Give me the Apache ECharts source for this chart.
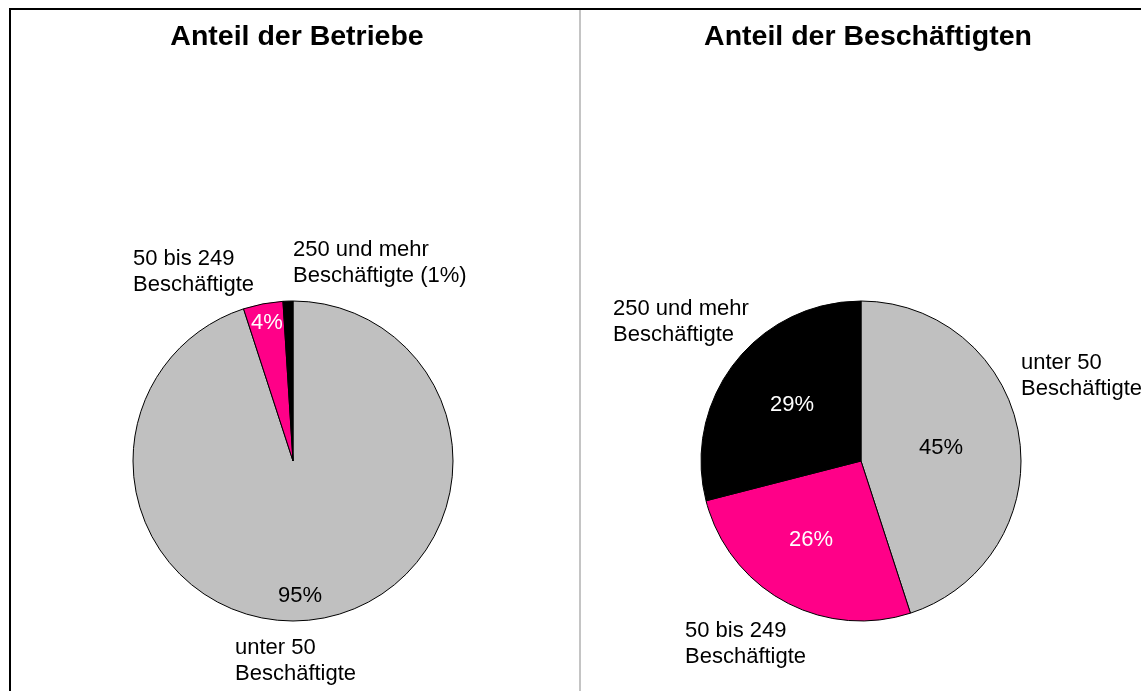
<!DOCTYPE html>
<html>
<head>
<meta charset="utf-8">
<script src="https://cdn.jsdelivr.net/npm/echarts@6/dist/echarts.min.js"></script>
<style>
  html, body { margin: 0; padding: 0; background: #fff; }
  #main { width: 1141px; height: 691px; }
</style>
</head>
<body>
<div id="main"></div>
<script>
var categories = ['unter 50\nBeschäftigte', '50 bis 249\nBeschäftigte', '250 und mehr\nBeschäftigte'];
var namesL = ['unter 50\nBeschäftigte', '50 bis 249\nBeschäftigte', '250 und mehr\nBeschäftigte (1%)'];
var betriebe = [95, 4, 1];
var beschaeftigte = [45, 26, 29];
var colors = ['#c0c0c0', '#ff0088', '#000000'];
var pctColors = ['#000', '#fff', '#fff'];

// label placement (x, y) – left pie then right pie
var namePosL = [[235, 635], [133, 246], [293, 237]];
var namePosR = [[1021, 350], [685, 618], [613, 296]];
var pctPosL = [[300, 596], [267, 323], [292, 300]];
var pctPosR = [[941, 448], [811, 540], [792, 405]];

var myChart = echarts.init(document.getElementById('main'));

function mainSeries(vals, center, pos, hideIdx) {
	return {
		type: 'pie',
		radius: 160,
		center: center,
		startAngle: 90,
		clockwise: true,
		avoidLabelOverlap: false,
		silent: true,
		itemStyle: { borderColor: '#000', borderWidth: 1 },
		label: {
			show: true,
			position: 'inside',
			fontFamily: 'Liberation Sans',
			fontSize: 22,
			formatter: function(p) {
				if (p.dataIndex === hideIdx) return '';
				return p.value + '%';
			}
		},
		labelLine: { show: false },
		labelLayout: function(p) {
			var q = pos[p.dataIndex];
			return { x: q[0], y: q[1], align: 'center', verticalAlign: 'middle' };
		},
		data: vals.map(function(v, i) {
			return { value: v, name: categories[i], itemStyle: { color: colors[i] }, label: { color: pctColors[i] } };
		})
	};
}

function nameSeries(vals, center, pos, names) {
	return {
		type: 'pie',
		radius: 160,
		center: center,
		startAngle: 90,
		clockwise: true,
		avoidLabelOverlap: false,
		silent: true,
		z: 1,
		itemStyle: { color: 'rgba(0,0,0,0)', borderWidth: 0 },
		label: {
			show: true,
			position: 'outside',
			fontFamily: 'Liberation Sans',
			fontSize: 22,
			lineHeight: 26,
			color: '#000',
			formatter: '{b}'
		},
		labelLine: { show: false },
		labelLayout: function(p) {
			var q = pos[p.dataIndex];
			return { x: q[0], y: q[1], align: 'left', verticalAlign: 'top' };
		},
		data: vals.map(function(v, i) {
			return { value: v, name: names[i] };
		})
	};
}

option = {
	backgroundColor: '#fff',
	animation: false,
	title: [{
		text: 'Anteil der Betriebe',
		left: 292,
		top: 18,
		textAlign: 'center',
		textStyle: { fontFamily: 'Liberation Sans', fontSize: 28.5, fontWeight: 'bold', color: '#000' }
	}, {
		text: 'Anteil der Beschäftigten',
		left: 863,
		top: 18,
		textAlign: 'center',
		textStyle: { fontFamily: 'Liberation Sans', fontSize: 28.5, fontWeight: 'bold', color: '#000' }
	}],
	graphic: [
		{ type: 'line', shape: { x1: 9, y1: 9, x2: 1141, y2: 9 }, style: { stroke: '#000', lineWidth: 2 } },
		{ type: 'line', shape: { x1: 10, y1: 8, x2: 10, y2: 691 }, style: { stroke: '#000', lineWidth: 2 } },
		{ type: 'line', shape: { x1: 580, y1: 10, x2: 580, y2: 691 }, style: { stroke: '#b0b0b0', lineWidth: 1.5 } }
	],
	series: [
		nameSeries(betriebe, [293, 461], namePosL, namesL),
		nameSeries(beschaeftigte, [861, 461], namePosR, categories),
		mainSeries(betriebe, [293, 461], pctPosL, 2),
		mainSeries(beschaeftigte, [861, 461], pctPosR, -1)
	]
};

myChart.setOption(option);
</script>
</body>
</html>
